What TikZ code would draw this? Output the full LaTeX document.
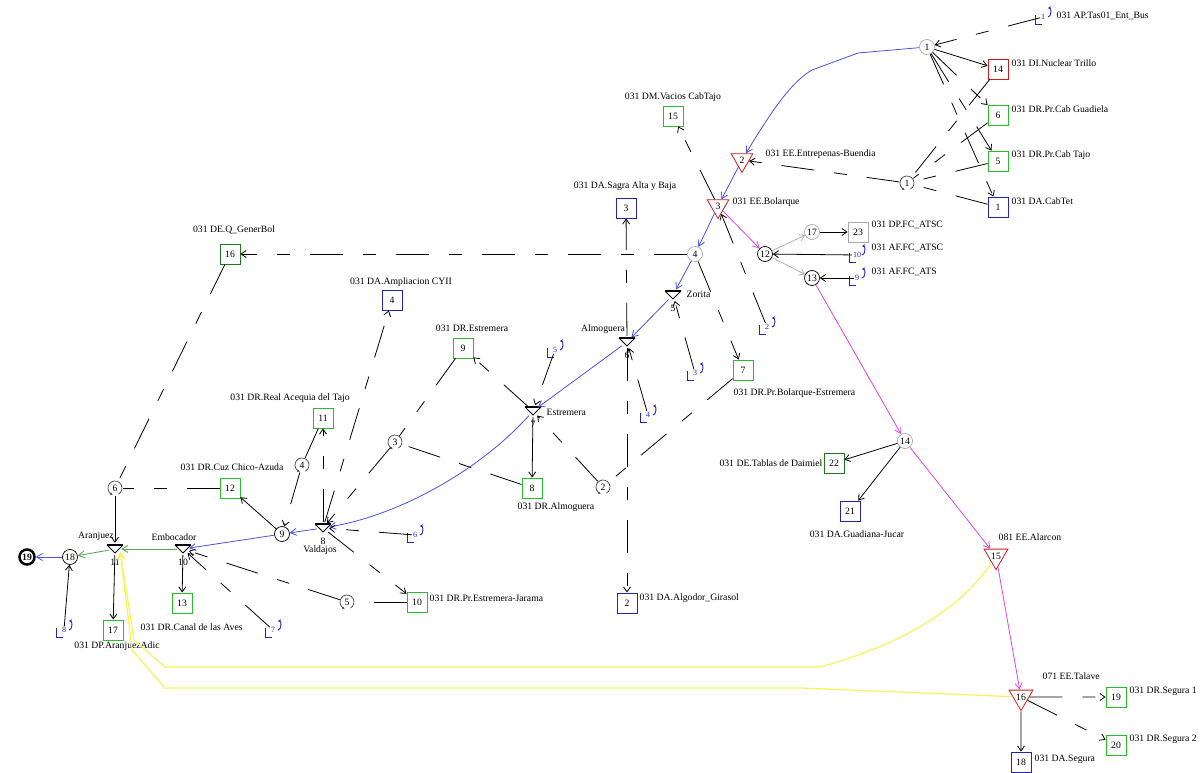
\documentclass[tikz,border=0pt]{standalone}
\usepackage{fontspec}
\setmainfont{Liberation Serif}
\usetikzlibrary{arrows.meta,shapes.geometric}
\definecolor{gbox}{RGB}{40,190,40}
\definecolor{dgbox}{RGB}{30,120,30}
\definecolor{bbox}{RGB}{35,35,185}
\definecolor{rbox}{RGB}{200,30,30}
\definecolor{fblue}{RGB}{80,80,225}
\definecolor{fmag}{RGB}{225,70,225}
\definecolor{fyel}{RGB}{245,245,90}
\definecolor{fgrn}{RGB}{90,170,90}
\definecolor{lgrey}{RGB}{170,170,170}
\newcommand\lfont{\fontsize{9.7}{10.5}\selectfont}
\newcommand\sfont{\fontsize{8}{9}\selectfont}
\tikzset{
 lab/.style={font=\lfont, inner sep=0.5pt},
 box/.style={draw, rectangle, minimum size=20pt, inner sep=0, line width=0.9pt, font=\lfont},
 gb/.style={box, draw=gbox},
 dgb/.style={box, draw=dgbox},
 bb/.style={box, draw=bbox},
 rb/.style={box, draw=rbox},
 grb/.style={box, draw=lgrey},
 circ/.style={circle, draw=lgrey, minimum size=15pt, inner sep=0, line width=0.7pt, font=\lfont},
 bcirc/.style={circ, draw=black},
 swn/.style={circle, minimum size=15pt, inner sep=0, font=\lfont},
 swl/.style={draw=black!75, line width=0.7pt, -{Stealth[length=2.5pt,width=2.5pt]}},
 apn/.style={font=\sfont, text=bbox, inner sep=1pt},
 apl/.style={draw=bbox, line width=0.9pt},
 rtri/.style={regular polygon, regular polygon sides=3, shape border rotate=180, draw=rbox, minimum size=25pt, inner sep=0, line width=0.8pt, font=\lfont},
 stn/.style={circle, minimum size=12pt, inner sep=0},
 ed/.style={draw=black, line width=0.8pt},
 ar/.style={ed, -{Straight Barb[length=5pt,width=7pt]}},
 dsh/.style={dash pattern=on 33pt off 20pt on 13pt off 20pt},
 fb/.style={draw=fblue, line width=0.8pt, -{Straight Barb[length=6pt,width=7pt]}},
 fm/.style={draw=fmag, line width=0.8pt, -{Straight Barb[length=6pt,width=7pt]}},
 fg/.style={draw=fgrn, line width=0.9pt, -{Straight Barb[length=6pt,width=7pt]}},
 fy/.style={draw=fyel, line width=1.2pt, -{Straight Barb[length=6pt,width=7pt]}},
 fgry/.style={draw=lgrey, line width=0.7pt, -{Straight Barb[length=5pt,width=7pt]}},
}
\newcommand\Swirl[4]{\node[swn] (#1) at (#2,#3) {#4};
 \draw[swl] (#1.center) ++(60:7) arc (60:-250:7);}
\newcommand\Ap[4]{\node[apn] (#1) at (#2,#3) {#4};
 \draw[apl] ([shift={(-8,-2)}]#1.center) -- ++(0,9) -- ++(7,0);
 \draw[apl,-{Stealth[length=3pt,width=3.5pt]}] ([shift={(5,0)}]#1.center) to[bend right=90] ([shift={(5,-9)}]#1.center);}
\newcommand\Stri[4]{\node[stn] (#1) at (#2,#3) {};
 \draw[ed] ([shift={(-8,-4)}]#1.center) -- ([shift={(0,4)}]#1.center) -- ([shift={(8,-4)}]#1.center);
 \draw[ed, line width=1.4pt] ([shift={(-8,-4)}]#1.center) -- ([shift={(8,-4)}]#1.center);
 \node[lab] (#1n) at ([shift={(0,13)}]#1.center) {#4};}
\begin{document}
\begin{tikzpicture}[x=1pt,y=-1pt]
\useasboundingbox[fill=white] (0,0) rectangle (1203,773);
% boxes
\node[rb] (b14) at (998,69) {14};
\node[gb] (b6) at (998,115) {6};
\node[gb] (b5) at (998,161) {5};
\node[bb] (b1) at (998,207) {1};
\node[gb] (b15) at (673,116) {15};
\node[bb] (b3) at (626,208) {3};
\node[dgb] (b16) at (230,254) {16};
\node[grb] (b23) at (858,232) {23};
\node[bb] (b4) at (392,300) {4};
\node[gb] (b9) at (463,348) {9};
\node[gb] (b7) at (743,370) {7};
\node[gb] (b11) at (323,418) {11};
\node[dgb] (b22) at (834,463) {22};
\node[gb] (b12) at (230,488) {12};
\node[gb] (b8) at (532,488) {8};
\node[bb] (b21) at (850,511) {21};
\node[gb] (b13) at (182,603) {13};
\node[gb] (b17) at (113,630) {17};
\node[gb] (b10) at (417,602) {10};
\node[bb] (b2) at (627,603) {2};
\node[gb] (b19) at (1116,697) {19};
\node[gb] (b20) at (1116,745) {20};
\node[bb] (b18) at (1021,762) {18};
% circles
\node[circ] (c1) at (927,47) {1};
\node[circ] (c4) at (695,254) {4};
\node[bcirc] (c12) at (765,254) {12};
\node[circ] (c17) at (812,232) {17};
\node[bcirc] (c13) at (812,278) {13};
\node[circ] (c14) at (905,441) {14};
\node[bcirc] (c9) at (282,534) {9};
\node[bcirc] (c18) at (70,557) {18};
\node[circ, draw=black, line width=2.5pt, font=\lfont\bfseries] (c19) at (27,557) {19};
% swirls
\Swirl{c1b}{907}{183}{1}
\Swirl{c3}{395}{442}{3}
\Swirl{c4b}{302}{465}{4}
\Swirl{c2}{603}{487}{2}
\Swirl{c6}{115}{488}{6}
\Swirl{c5}{347}{602}{5}
% inflows
\Ap{ap1}{1043}{17}{1}
\Ap{ap10}{857}{255}{10}
\Ap{ap9}{857}{278}{9}
\Ap{ap2}{767}{327}{2}
\Ap{ap5}{555}{350}{5}
\Ap{ap3}{695}{373}{3}
\Ap{ap4}{648}{415}{4}
\Ap{ap6}{415}{535}{6}
\Ap{ap8}{64}{630}{8}
\Ap{ap7}{273}{630}{7}
% reservoirs
\node[rtri] (t2) at (742,160) {2};
\node[rtri] (t3) at (718,206) {3};
\node[rtri] (t15) at (996,556) {15};
\node[rtri] (t16) at (1021,697) {16};
% small nodes
\Stri{t5}{673}{295}{5}
\Stri{t6}{627}{342}{6}
\Stri{t7}{533}{411}{7}
\Stri{t8}{323}{528}{8}
\Stri{t10}{183}{549}{10}
\Stri{t11}{115}{549}{11}
% labels
\node[lab, anchor=west] (l1) at (1056,16) {031 AP.Tas01\_Ent\_Bus};
\node[lab, anchor=west] (l2) at (1011,63) {031 DI.Nuclear Trillo};
\node[lab, anchor=west] (l3) at (1011,109) {031 DR.Pr.Cab Guadiela};
\node[lab, anchor=west] (l4) at (1011,155) {031 DR.Pr.Cab Tajo};
\node[lab, anchor=west] (l5) at (1011,201) {031 DA.CabTet};
\node[lab, anchor=west] (l6) at (765,154) {031 EE.Entrepenas-Buendia};
\node[lab, anchor=west] (l7) at (732,202) {031 EE.Bolarque};
\node[lab] (l8) at (673,97) {031 DM.Vacios CabTajo};
\node[lab] (l9) at (625,186) {031 DA.Sagra Alta y Baja};
\node[lab] (l10) at (234,230) {031 DE.Q\_GenerBol};
\node[lab, anchor=west] (l11) at (871,225) {031 DP.FC\_ATSC};
\node[lab, anchor=west] (l12) at (871,248) {031 AF.FC\_ATSC};
\node[lab, anchor=west] (l13) at (871,272) {031 AF.FC\_ATS};
\node[lab] (l14) at (401,282) {031 DA.Ampliacion CYII};
\node[lab] (l15) at (472,328) {031 DR.Estremera};
\node[lab, anchor=west] (l16) at (733,393) {031 DR.Pr.Bolarque-Estremera};
\node[lab] (l17) at (290,398) {031 DR.Real Acequia del Tajo};
\node[lab, anchor=east] (l18) at (823,463) {031 DE.Tablas de Daimiel};
\node[lab] (l19) at (232,467) {031 DR.Cuz Chico-Azuda};
\node[lab] (l20) at (556,507) {031 DR.Almoguera};
\node[lab] (l21) at (857,534) {031 DA.Guadiana-Jucar};
\node[lab, anchor=west] (l22) at (998,537) {081 EE.Alarcon};
\node[lab, anchor=west] (l23) at (140,627) {031 DR.Canal de las Aves};
\node[lab] (l24) at (117,646) {031 DP.AranjuezAdic};
\node[lab, anchor=west] (l25) at (429,598) {031 DR.Pr.Estremera-Jarama};
\node[lab, anchor=west] (l26) at (639,598) {031 DA.Algodor\_Girasol};
\node[lab, anchor=west] (l27) at (1042,676) {071 EE.Talave};
\node[lab, anchor=west] (l28) at (1129,691) {031 DR.Segura 1};
\node[lab, anchor=west] (l29) at (1129,739) {031 DR.Segura 2};
\node[lab, anchor=west] (l30) at (1034,759) {031 DA.Segura};
\node[lab, anchor=west] (l31) at (686,294) {Zorita};
\node[lab] (l32) at (603,329) {Almoguera};
\node[lab, anchor=west] (l33) at (546,412) {Estremera};
\node[lab] (l34) at (320,550) {Valdajos};
\node[lab] (l35) at (174,537) {Embocador};
\node[lab] (l36) at (96,536) {Aranjuez};
% yellow
\draw[fy] (t15) .. controls (960,610) and (900,645) .. (820,667) -- (165,667) -- (134,640) -- (t11.-30);
\draw[fy] (t16) -- (800,688) -- (165,688) -- (132,650) -- (t11.-30);
% blue main flow
\draw[fb] (c1) -- (858,53) -- (812,70) .. controls (795,80) and (778,100) .. (t2);
\draw[fb] (t2) -- (t3);
\draw[fb] (t3) -- (c4);
\draw[fb] (c4) -- (t5);
\draw[fb] (t5) -- (t6);
\draw[fb] (t6) -- (t7);
\draw[fb] (t7) .. controls (480,470) and (400,515) .. (t8);
\draw[fb] (t8) -- (c9);
\draw[fb] (c9) -- (t10);
\draw[fg] (t10) -- (t11);
\draw[fg] (t11) -- (c18);
\draw[fb] (c18) -- (c19);
% magenta
\draw[fm] (t3) -- (c12);
\draw[fm] (c13) -- (c14);
\draw[fm] (c14) -- (t15);
\draw[fm] (t15) -- (t16);
% grey
\draw[fgry] (c12) -- (c17);
\draw[fgry] (c12) -- (c13);
% black
\draw[ar,dsh] (ap1) -- (c1);
\draw[ar] (c1) -- (b14);
\draw[ar,dsh] (c1) -- (b6);
\draw[ar,dsh] (c1) -- (b5);
\draw[ar,dsh] (c1) -- (b1);
\draw[ed,dsh] (b14) -- (c1b);
\draw[ed,dsh] (b6) -- (c1b);
\draw[ed,dsh] (b5) -- (c1b);
\draw[ed,dsh] (b1) -- (c1b);
\draw[ar,dsh] (c1b) -- (t2);
\draw[ar,dsh] (t3) -- (b15);
\draw[ar,dsh] (t6) -- (b3);
\draw[ar,dsh] (t6) -- (b2);
\draw[ar,dsh] (c4) -- (b16);
\draw[ar,dsh] (c4) -- (b7);
\draw[ar,dsh] (ap2) -- (t3);
\draw[ar] (ap10) -- (c12);
\draw[ar] (c17) -- (b23);
\draw[ar] (ap9) -- (c13);
\draw[ar,dsh] (ap3) -- (t5);
\draw[ar,dsh] (ap5) -- (t7);
\draw[ar,dsh] (ap4) -- (t6);
\draw[ar,dsh] (t7) -- (b9);
\draw[ar] (t7) -- (b8);
\draw[ar,dsh] (c2) -- (t7);
\draw[ed,dsh] (b7) -- (c2);
\draw[ar,dsh] (t8) -- (b4);
\draw[ar,dsh] (t8) -- (b11);
\draw[ar,dsh] (c3) -- (t8);
\draw[ed,dsh] (b9) -- (c3);
\draw[ed,dsh] (b8) -- (c3);
\draw[ar,dsh] (ap6) -- (t8);
\draw[ar] (c9) -- (b12);
\draw[ar,dsh] (c4b) -- (c9);
\draw[ed,dsh] (b11) -- (c4b);
\draw[ed,dsh] (b12) -- (c6);
\draw[ed,dsh] (b16) -- (c6);
\draw[ar] (c6) -- (t11);
\draw[ar] (t11) -- (b17);
\draw[ar] (ap8) -- (c18);
\draw[ar] (t10) -- (b13);
\draw[ar,dsh] (t8) -- (b10);
\draw[ar,dsh] (c5) -- (t10);
\draw[ar,dsh] (ap7) -- (t10);
\draw[ed,dsh] (b10) -- (c5);
\draw[ar] (c14) -- (b22);
\draw[ar] (c14) -- (b21);
\draw[ar,dsh] (t16) -- (b19);
\draw[ar,dsh] (t16) -- (b20);
\draw[ar] (t16) -- (b18);
\end{tikzpicture}
\end{document}
